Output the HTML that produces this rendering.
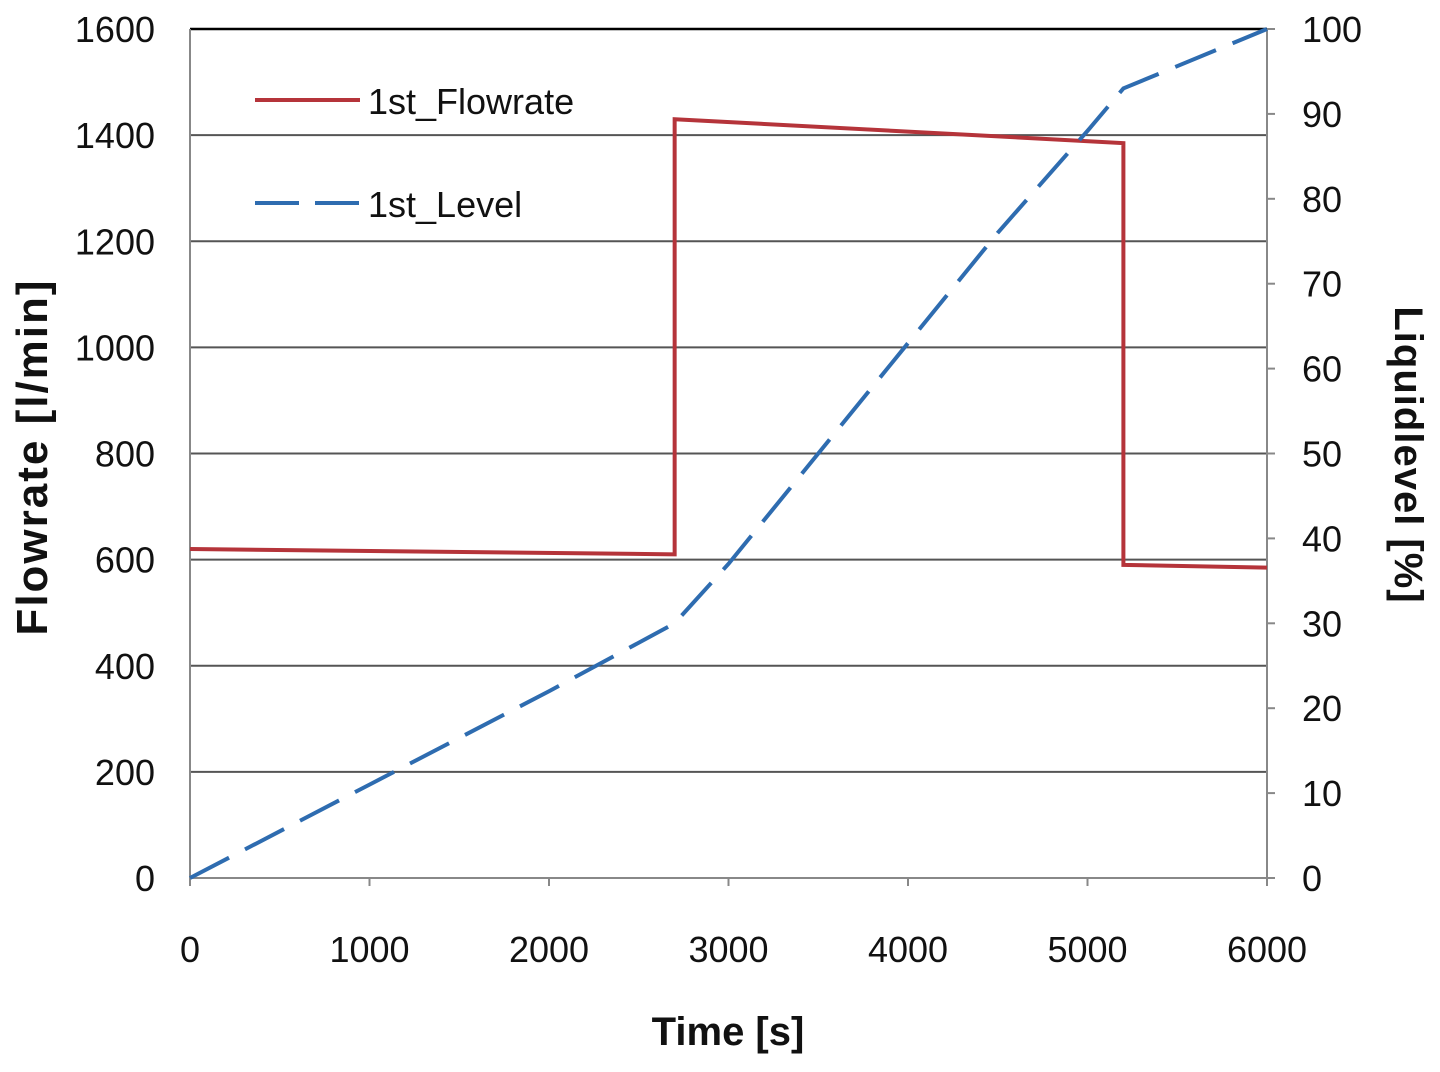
<!DOCTYPE html>
<html><head><meta charset="utf-8"><style>
body{margin:0;background:#fff;}
svg text{font-family:"Liberation Sans",sans-serif;fill:#111;}
</style></head><body>
<svg id="chart" width="1440" height="1067" viewBox="0 0 1440 1067" xmlns="http://www.w3.org/2000/svg">
<g id="grid"></g><g id="axes"></g><g id="series"></g>
<g>
<line x1="255" y1="100" x2="360" y2="100" stroke="#b5343a" stroke-width="4"/>
<text x="368" y="114" font-size="36">1st_Flowrate</text>
<line x1="255" y1="203" x2="360" y2="203" stroke="#2e6cb0" stroke-width="4" stroke-dasharray="44,16"/>
<text x="368" y="217" font-size="36">1st_Level</text>
</g>
<text x="728" y="1045" font-size="40" font-weight="bold" text-anchor="middle">Time [s]</text>
<text transform="translate(47,457) rotate(-90)" font-size="44" font-weight="bold" letter-spacing="2" text-anchor="middle">Flowrate [l/min]</text>
<text transform="translate(1395,455) rotate(90)" font-size="40" font-weight="bold" letter-spacing="1" text-anchor="middle">Liquidlevel [%]</text>
</svg>
<script>
const xTicks=[0,1000,2000,3000,4000,5000,6000];
const yLeftTicks=[0,200,400,600,800,1000,1200,1400,1600];
const yRightTicks=[0,10,20,30,40,50,60,70,80,90,100];
const flowTime=[0,2700,2700,5200,5200,6000];
const flowValues=[620,610,1430,1385,590,585];
const levelTime=[0,1000,2000,2700,3000,3500,4000,4500,5000,5200,6000];
const levelValues=[0,11,22,30,37,50,63,76,88,93,100];
const L=190,R=1267,T=29,B=878;
const x=v=>L+(v-0)/6000*(R-L);
const yl=v=>B-v/1600*(B-T);
const yr=v=>B-v/100*(B-T);
const NS="http://www.w3.org/2000/svg";
function mk(tag,attrs,parent){const e=document.createElementNS(NS,tag);for(const k in attrs)e.setAttribute(k,attrs[k]);document.getElementById(parent).appendChild(e);return e;}
yLeftTicks.forEach(t=>{
 const g=mk('line',{x1:L,x2:R,y1:yl(t),y2:yl(t),stroke:t==1600?'#000':'#555','stroke-width':t==1600?2.5:2},'grid');
 
 
 const tx=mk('text',{x:155,y:yl(t)+13,'font-size':36,'text-anchor':'end'},'axes');tx.textContent=t;
 
 
});
yRightTicks.forEach(t=>{
 const tk=mk('line',{x1:R,x2:R+8,y1:yr(t),y2:yr(t),stroke:'#888','stroke-width':2},'axes');
 
 
 const tx=mk('text',{x:1302,y:yr(t)+13,'font-size':36},'axes');tx.textContent=t;
 
 
});
xTicks.forEach(t=>{
 const tk=mk('line',{x1:x(t),x2:x(t),y1:B,y2:B+8,stroke:'#888','stroke-width':2},'axes');
 
 
 const tx=mk('text',{x:x(t),y:962,'font-size':36,'text-anchor':'middle'},'axes');tx.textContent=t;
 
 
});
[[L,T,L,B],[R,T,R,B],[L,B,R,B]].forEach(a=>{
 const ln=mk('line',{x1:a[0],y1:a[1],x2:a[2],y2:a[3],stroke:'#888','stroke-width':2},'axes');
 
 
});
const fp=mk('polyline',{points:flowTime.map((t,i)=>x(t)+','+yl(flowValues[i])).join(' '),fill:'none',stroke:'#b5343a','stroke-width':4},'series');


const lp=mk('polyline',{points:levelTime.map((t,i)=>x(t)+','+yr(levelValues[i])).join(' '),fill:'none',stroke:'#2e6cb0','stroke-width':4,'stroke-dasharray':'44,18'},'series');


</script>
</body></html>
